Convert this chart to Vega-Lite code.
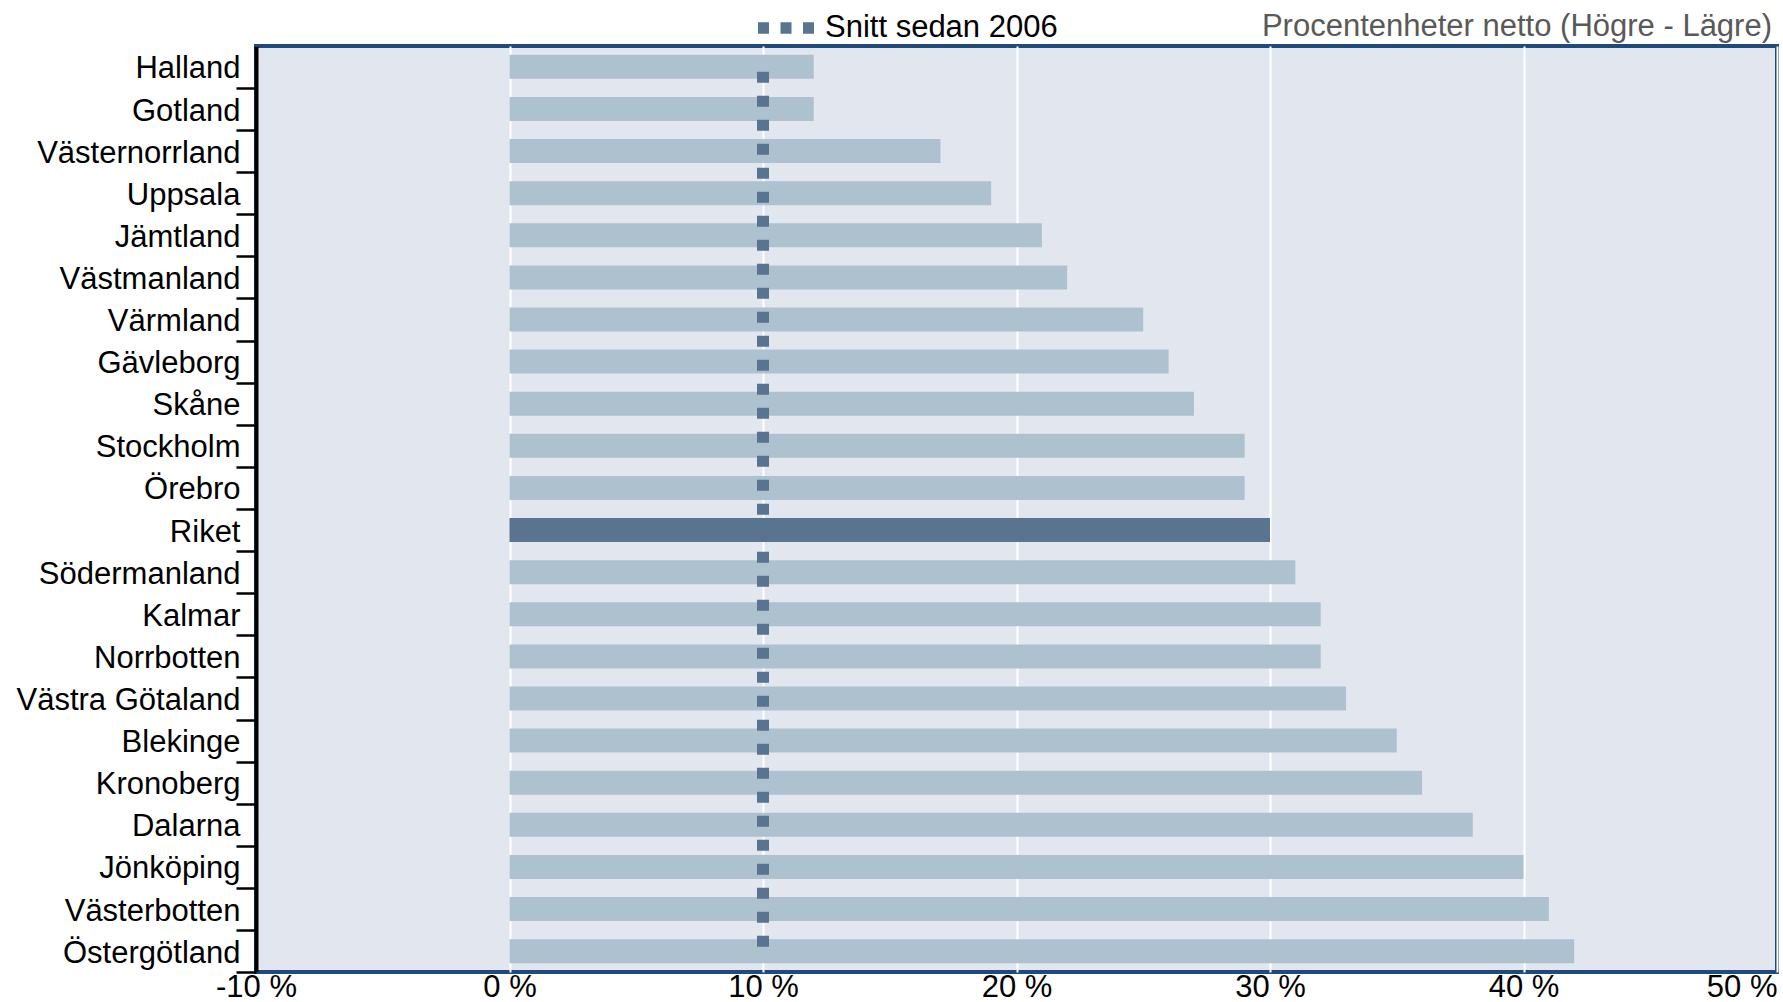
{
  "$schema": "https://vega.github.io/schema/vega-lite/v6.json",
  "width": 1521,
  "height": 926,
  "autosize": {"type": "none"},
  "padding": {"left": 256, "top": 46, "right": 6, "bottom": 30},
  "background": "white",
  "config": {
    "font": "Liberation Sans",
    "view": {"fill": "#E2E7EF", "stroke": "#1F4A7D", "strokeWidth": 4}
  },
  "title": {
    "text": "Procentenheter netto (Högre - Lägre)",
    "anchor": "end",
    "frame": "group",
    "orient": "top",
    "baseline": "alphabetic",
    "offset": -72.5,
    "dx": -5,
    "fontSize": 31,
    "fontWeight": "normal",
    "color": "#595959",
    "font": "Liberation Sans"
  },
  "data": {
    "values": [
      {"lan": "Halland", "netto": 12, "snitt": 10, "grupp": "Län"},
      {"lan": "Gotland", "netto": 12, "snitt": 10, "grupp": "Län"},
      {"lan": "Västernorrland", "netto": 17, "snitt": 10, "grupp": "Län"},
      {"lan": "Uppsala", "netto": 19, "snitt": 10, "grupp": "Län"},
      {"lan": "Jämtland", "netto": 21, "snitt": 10, "grupp": "Län"},
      {"lan": "Västmanland", "netto": 22, "snitt": 10, "grupp": "Län"},
      {"lan": "Värmland", "netto": 25, "snitt": 10, "grupp": "Län"},
      {"lan": "Gävleborg", "netto": 26, "snitt": 10, "grupp": "Län"},
      {"lan": "Skåne", "netto": 27, "snitt": 10, "grupp": "Län"},
      {"lan": "Stockholm", "netto": 29, "snitt": 10, "grupp": "Län"},
      {"lan": "Örebro", "netto": 29, "snitt": 10, "grupp": "Län"},
      {"lan": "Riket", "netto": 30, "snitt": 10, "grupp": "Riket"},
      {"lan": "Södermanland", "netto": 31, "snitt": 10, "grupp": "Län"},
      {"lan": "Kalmar", "netto": 32, "snitt": 10, "grupp": "Län"},
      {"lan": "Norrbotten", "netto": 32, "snitt": 10, "grupp": "Län"},
      {"lan": "Västra Götaland", "netto": 33, "snitt": 10, "grupp": "Län"},
      {"lan": "Blekinge", "netto": 35, "snitt": 10, "grupp": "Län"},
      {"lan": "Kronoberg", "netto": 36, "snitt": 10, "grupp": "Län"},
      {"lan": "Dalarna", "netto": 38, "snitt": 10, "grupp": "Län"},
      {"lan": "Jönköping", "netto": 40, "snitt": 10, "grupp": "Län"},
      {"lan": "Västerbotten", "netto": 41, "snitt": 10, "grupp": "Län"},
      {"lan": "Östergötland", "netto": 42, "snitt": 10, "grupp": "Län"}
    ]
  },
  "encoding": {
    "y": {
      "field": "lan",
      "type": "nominal",
      "sort": null,
      "scale": {"paddingInner": 0.43, "paddingOuter": 0.21},
      "axis": {
        "title": null,
        "domainColor": "black",
        "domainWidth": 4,
        "tickColor": "black",
        "tickWidth": 2.5,
        "tickSize": 20,
        "bandPosition": 1,
        "tickOffset": 9.05,
        "labelOffset": -7,
        "tickExtra": false,
        "labelFontSize": 31,
        "labelColor": "black",
        "labelPadding": -4,
        "labelLimit": 0,
        "labelFont": "Liberation Sans",
        "zindex": 3
      }
    }
  },
  "layer": [
    {
      "mark": {"type": "bar"},
      "encoding": {
        "x": {
          "field": "netto",
          "type": "quantitative",
          "scale": {"domain": [-10, 50], "nice": false, "zero": false},
          "axis": {
            "title": null,
            "values": [-10, 0, 10, 20, 30, 40, 50],
            "labelExpr": "datum.value + ' %'",
            "labelAlign": {"expr": "datum.value == 50 ? 'right' : 'center'"},
            "labelBound": false,
            "domain": false,
            "ticks": false,
            "grid": true,
            "gridColor": "white",
            "gridWidth": 2,
            "labelFontSize": 31,
            "labelColor": "black",
            "labelPadding": 0,
            "labelLimit": 0,
            "labelFont": "Liberation Sans",
            "zindex": 0
          }
        },
        "color": {
          "field": "grupp",
          "type": "nominal",
          "scale": {"domain": ["Län", "Riket"], "range": ["#AEC1CF", "#587490"]},
          "legend": null
        }
      }
    },
    {
      "mark": {"type": "line", "strokeWidth": 12, "strokeDash": [11, 13], "strokeDashOffset": 19, "strokeCap": "butt"},
      "encoding": {
        "x": {"field": "snitt", "type": "quantitative"},
        "stroke": {
          "datum": "Snitt sedan 2006",
          "type": "nominal",
          "scale": {"range": ["#587490"]},
          "legend": {
            "title": null,
            "orient": "none",
            "legendX": 496,
            "legendY": -52,
            "padding": 0,
            "symbolType": "stroke",
            "symbolSize": 3136,
            "symbolStrokeWidth": 11.5,
            "symbolDash": [11, 11.5],
            "symbolOffset": 0,
            "labelFontSize": 31,
            "labelColor": "black",
            "labelFont": "Liberation Sans",
            "labelLimit": 0,
            "labelOffset": 5
          }
        }
      }
    },
    {
      "mark": {"type": "rule", "color": "#1F4A7D", "strokeWidth": 4},
      "encoding": {"x": {"datum": 0, "type": "quantitative"}}
    }
  ]
}
